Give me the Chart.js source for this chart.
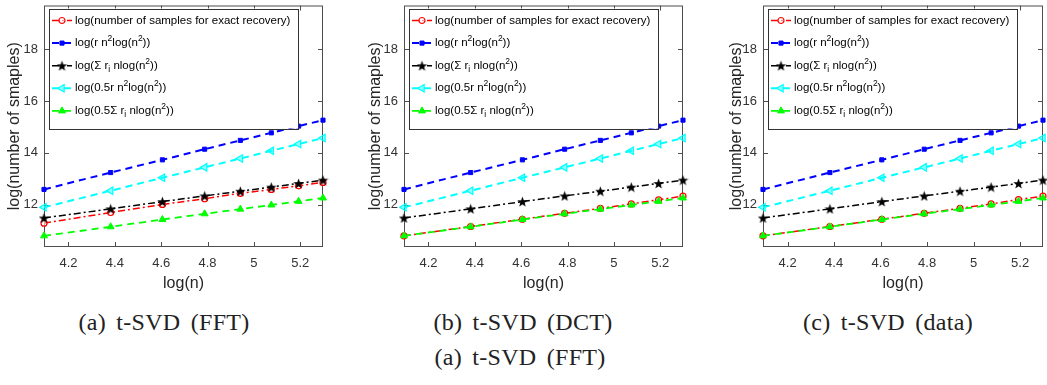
<!DOCTYPE html>
<html lang="en">
<head>
  <meta charset="UTF-8" />
  <title>t-SVD sample complexity</title>
  <script src="https://cdn.jsdelivr.net/npm/chart.js"></script>
  <style>
    body {
      margin: 0;
      padding: 0;
      background-color: #ffffff;
      width: 1047px;
      height: 385px;
      overflow: hidden;
      position: relative;
    }

    .panel {
      position: absolute;
      top: 0;
    }

    .caption {
      position: absolute;
      width: 300px;
      text-align: center;
      font-family: "Liberation Serif", serif;
      font-size: 24px;
      line-height: 26px;
      color: #222;
      letter-spacing: 0.3px;
      word-spacing: 4px;
    }
  </style>
</head>
<body>
  <canvas class="panel" id="chartFFT" width="345" height="300" style="left:0px"></canvas>
  <canvas class="panel" id="chartDCT" width="345" height="300" style="left:361px"></canvas>
  <canvas class="panel" id="chartData" width="345" height="300" style="left:722px"></canvas>

  <div class="caption" style="left:14px; top:309px">(a) t-SVD (FFT)</div>
  <div class="caption" style="left:373px; top:309px">(b) t-SVD (DCT)</div>
  <div class="caption" style="left:738px; top:309px">(c) t-SVD (data)</div>
  <div class="caption" style="left:370px; top:344px">(a) t-SVD (FFT)</div>

  <script>
    // x = log(n), n = 60 ... 200
    const logN = [4.0943, 4.3820, 4.6052, 4.7875, 4.9416, 5.0752, 5.1930, 5.2983];
    const xTicks = [4.2, 4.4, 4.6, 4.8, 5, 5.2];
    const yTicks = [12, 14, 16, 18];

    const boundRN = [12.59, 13.24, 13.73, 14.14, 14.48, 14.77, 15.03, 15.26];
    const halfBoundRN = [11.90, 12.54, 13.04, 13.44, 13.78, 14.08, 14.34, 14.57];
    const boundSumR = [11.49, 11.84, 12.12, 12.34, 12.52, 12.68, 12.82, 12.95];
    const halfBoundSumR = [10.80, 11.15, 11.43, 11.65, 11.83, 11.99, 12.13, 12.26];

    const exactFFT = [11.29, 11.70, 12.01, 12.23, 12.44, 12.59, 12.73, 12.86];
    const exactDCT = [10.80, 11.16, 11.44, 11.67, 11.86, 12.03, 12.19, 12.33];
    const exactData = [10.80, 11.16, 11.44, 11.67, 11.86, 12.03, 12.20, 12.33];

    // ^ = superscript char, _ = subscript char
    const legendLabels = [
      "log(number of samples for exact recovery)",
      "log(r n^2log(n^2))",
      "log(Σ r_i nlog(n^2))",
      "log(0.5r n^2log(n^2))",
      "log(0.5Σ r_i nlog(n^2))"
    ];

    const FONT = "'Liberation Sans', Arial, sans-serif";

    function starImage(size, color) {
      const c = document.createElement("canvas");
      c.width = c.height = size;
      const g = c.getContext("2d");
      const r = size / 2, ri = r * 0.42;
      g.beginPath();
      for (let k = 0; k < 10; k++) {
        const a = -Math.PI / 2 + k * Math.PI / 5;
        const rr = k % 2 ? ri : r;
        g.lineTo(r + rr * Math.cos(a), r + 0.5 + rr * Math.sin(a));
      }
      g.closePath();
      g.fillStyle = color;
      g.fill();
      return c;
    }
    const blackStar = starImage(11, "#000");

    function toPoints(values) {
      return logN.map((x, i) => ({ x: x, y: values[i] }));
    }

    function plainLabel(s) {
      return s.replace(/\^2/g, "²").replace(/_i/g, "ᵢ");
    }

    function parseLabel(s) {
      const parts = [];
      let i = 0;
      while (i < s.length) {
        if (s[i] === "^" || s[i] === "_") {
          parts.push({ t: s[i + 1], kind: s[i] === "^" ? "sup" : "sub" });
          i += 2;
        } else {
          let j = i;
          while (j < s.length && s[j] !== "^" && s[j] !== "_") j++;
          parts.push({ t: s.slice(i, j), kind: "normal" });
          i = j;
        }
      }
      return parts;
    }

    function drawMarker(ctx, ds, x, y) {
      const st = ds.pointStyle;
      const r = ds.pointRadius;
      ctx.save();
      ctx.setLineDash([]);
      ctx.translate(x, y);
      if (typeof st === "object") {
        ctx.drawImage(st, -st.width / 2, -st.height / 2);
        ctx.restore();
        return;
      }
      ctx.rotate((ds.pointRotation || 0) * Math.PI / 180);
      ctx.beginPath();
      if (st === "circle") {
        ctx.arc(0, 0, r, 0, Math.PI * 2);
      } else if (st === "rect") {
        const s = r * Math.SQRT1_2;
        ctx.rect(-s, -s, 2 * s, 2 * s);
      } else if (st === "triangle") {
        ctx.moveTo(0, -r);
        ctx.lineTo(r * 0.866, r * 0.5);
        ctx.lineTo(-r * 0.866, r * 0.5);
        ctx.closePath();
      }
      ctx.fillStyle = ds.pointBackgroundColor;
      ctx.fill();
      ctx.lineWidth = ds.pointBorderWidth;
      ctx.strokeStyle = ds.borderColor;
      ctx.stroke();
      ctx.restore();
    }

    // box round the axes and inward ticks on all four sides
    const framePlugin = {
      id: "frame",
      beforeDatasetsDraw(chart) {
        const { ctx, chartArea: a } = chart;
        const sx = chart.scales.x, sy = chart.scales.y;
        ctx.save();
        ctx.strokeStyle = "#4d4d4d";
        ctx.lineWidth = 1;
        ctx.strokeRect(a.left + 0.5, a.top + 0.5, a.right - a.left - 1, a.bottom - a.top - 1);
        ctx.beginPath();
        xTicks.forEach(v => {
          const px = Math.round(sx.getPixelForValue(v)) + 0.5;
          ctx.moveTo(px, a.bottom);
          ctx.lineTo(px, a.bottom - 5);
          ctx.moveTo(px, a.top);
          ctx.lineTo(px, a.top + 5);
        });
        yTicks.forEach(v => {
          const py = Math.round(sy.getPixelForValue(v)) + 0.5;
          ctx.moveTo(a.left, py);
          ctx.lineTo(a.left + 5, py);
          ctx.moveTo(a.right, py);
          ctx.lineTo(a.right - 5, py);
        });
        ctx.stroke();
        ctx.restore();
      }
    };

    const legendPlugin = {
      id: "boxLegend",
      afterDatasetsDraw(chart) {
        const { ctx, chartArea: a } = chart;
        const size = 11.5, small = 8.5;
        const rows = legendLabels.map(parseLabel);
        ctx.save();
        const widthOf = parts => parts.reduce((w, p) => {
          ctx.font = (p.kind === "normal" ? size : small) + "px " + FONT;
          return w + ctx.measureText(p.t).width;
        }, 0);
        const maxW = Math.max(...rows.map(widthOf));
        const left = a.left + 5, top = a.top + 3;
        const w = 26 + maxW + 8, h = 120;
        ctx.fillStyle = "#fff";
        ctx.fillRect(left, top, w, h);
        ctx.strokeStyle = "#333";
        ctx.lineWidth = 1;
        ctx.strokeRect(Math.round(left) + 0.5, Math.round(top) + 0.5, Math.round(w), h);

        rows.forEach((parts, i) => {
          const ds = chart.data.datasets[i];
          const y = top + 12 + i * 22.6;
          ctx.save();
          ctx.strokeStyle = ds.borderColor;
          ctx.lineWidth = ds.borderWidth;
          ctx.setLineDash(ds.borderDash);
          ctx.beginPath();
          ctx.moveTo(left + 3, y);
          ctx.lineTo(left + 23, y);
          ctx.stroke();
          ctx.restore();
          drawMarker(ctx, ds, left + 13, y);

          let x = left + 26;
          ctx.fillStyle = "#000";
          ctx.textBaseline = "middle";
          parts.forEach(p => {
            let dy = 0;
            if (p.kind === "sup") dy = -4.5;
            if (p.kind === "sub") dy = 4;
            ctx.font = (p.kind === "normal" ? size : small) + "px " + FONT;
            ctx.fillText(p.t, x, y + dy);
            x += ctx.measureText(p.t).width;
          });
        });
        ctx.restore();
      }
    };

    function renderChart(canvasId, exact, axisWidth, padRight) {
      const ctx = document.getElementById(canvasId).getContext("2d");
      return new Chart(ctx, {
        type: "line",
        data: {
          datasets: [
            {
              label: plainLabel(legendLabels[0]),
              data: toPoints(exact),
              borderColor: "#ff0000",
              borderDash: [7, 3, 2, 3],
              borderWidth: 1.5,
              pointStyle: "circle",
              pointRadius: 3,
              pointBorderWidth: 1.2,
              pointBackgroundColor: "rgba(255,255,255,0.6)",
              order: 5
            },
            {
              label: plainLabel(legendLabels[1]),
              data: toPoints(boundRN),
              borderColor: "#0000ff",
              borderDash: [7, 5],
              borderWidth: 2,
              pointStyle: "rect",
              pointRadius: 2.9,
              pointBorderWidth: 1,
              pointBackgroundColor: "#0000ff",
              order: 4
            },
            {
              label: plainLabel(legendLabels[2]),
              data: toPoints(boundSumR),
              borderColor: "#000000",
              borderDash: [7, 3, 2, 3],
              borderWidth: 1.5,
              pointStyle: blackStar,
              pointRadius: 4,
              pointBorderWidth: 1,
              pointBackgroundColor: "#000000",
              order: 3
            },
            {
              label: plainLabel(legendLabels[3]),
              data: toPoints(halfBoundRN),
              borderColor: "#00ffff",
              borderDash: [7, 5],
              borderWidth: 2,
              pointStyle: "triangle",
              pointRotation: -90,
              pointRadius: 4.3,
              pointBorderWidth: 1.2,
              pointBackgroundColor: "rgba(0,255,255,0.45)",
              order: 2
            },
            {
              label: plainLabel(legendLabels[4]),
              data: toPoints(halfBoundSumR),
              borderColor: "#00ff00",
              borderDash: [7, 5],
              borderWidth: 1.8,
              pointStyle: "triangle",
              pointRadius: 4,
              pointBorderWidth: 1,
              pointBackgroundColor: "#00ff00",
              order: 1
            }
          ].map(d => Object.assign({ tension: 0, fill: false, clip: false, pointBorderColor: d.borderColor }, d))
        },
        options: {
          responsive: false,
          animation: false,
          layout: { padding: { top: 1, right: padRight, left: 0, bottom: 0 } },
          plugins: {
            legend: { display: false },
            tooltip: { enabled: false }
          },
          scales: {
            x: {
              type: "linear",
              min: 4.0943,
              max: 5.2983,
              afterBuildTicks: s => { s.ticks = xTicks.map(v => ({ value: v })); },
              afterFit: s => {
                s.height = 53;
                s.paddingLeft = 0;
                s.paddingRight = 0;
              },
              grid: { display: false, drawTicks: false },
              border: { display: false },
              ticks: {
                padding: 9,
                maxRotation: 0,
                autoSkip: false,
                color: "#333",
                font: { family: FONT, size: 13 },
                callback: v => String(v)
              },
              title: {
                display: true,
                text: "log(n)",
                color: "#262626",
                font: { family: FONT, size: 16 },
                padding: { top: 0, bottom: 7 }
              }
            },
            y: {
              type: "linear",
              min: 10.37,
              max: 19.68,
              afterBuildTicks: s => { s.ticks = yTicks.map(v => ({ value: v })); },
              afterFit: s => {
                s.width = axisWidth;
                s.paddingTop = 0;
                s.paddingBottom = 0;
              },
              grid: { display: false, drawTicks: false },
              border: { display: false },
              ticks: {
                padding: 6,
                autoSkip: false,
                color: "#333",
                font: { family: FONT, size: 13 },
                callback: v => String(v)
              },
              title: {
                display: true,
                text: "log(number of smaples)",
                color: "#262626",
                font: { family: FONT, size: 16 },
                padding: { top: 5, bottom: 0 }
              }
            }
          }
        },
        plugins: [framePlugin, legendPlugin]
      });
    }

    renderChart("chartFFT", exactFFT, 44, 22);
    renderChart("chartDCT", exactDCT, 43, 23);
    renderChart("chartData", exactData, 41, 24);
  </script>
</body>
</html>
